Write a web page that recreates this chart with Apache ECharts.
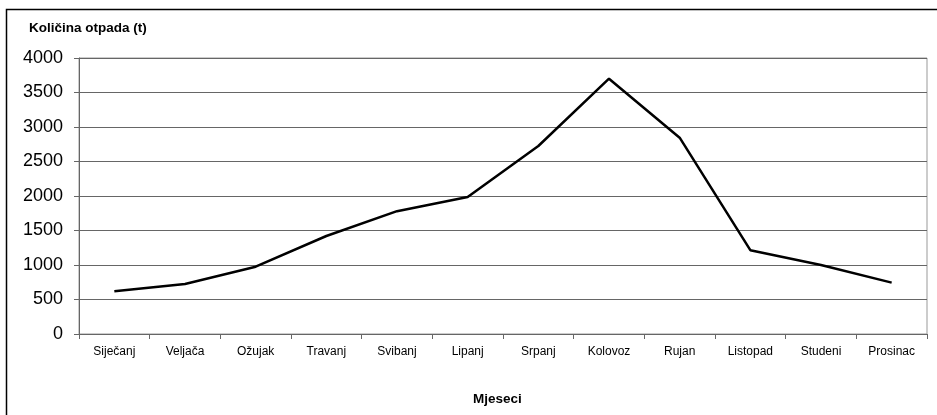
<!DOCTYPE html>
<html>
<head>
<meta charset="utf-8">
<script src="https://cdn.jsdelivr.net/npm/echarts@6/dist/echarts.min.js"></script>
<style>
  html, body { margin: 0; padding: 0; background: #fff; }
  #box { width: 937px; height: 415px; }
</style>
</head>
<body>
<div id="box"></div>
<script>
// podaci
var months = ["Siječanj", "Veljača", "Ožujak", "Travanj", "Svibanj", "Lipanj",
  "Srpanj", "Kolovoz", "Rujan", "Listopad", "Studeni", "Prosinac"];
var otpad = [620, 725, 975, 1420, 1780, 1985, 2725, 3700, 2845, 1215, 1000, 745];
var yTicks = [0, 4000, 500]; // min, max, interval

var myChart = echarts.init(document.getElementById("box"));

var font = "Liberation Sans, Arial, sans-serif";

var option = {
  animation: false,
  backgroundColor: "#fff",
  grid: {
    left: 79,
    right: 10,
    top: 58,
    bottom: 81,
    show: true,
    borderColor: "#999",
    borderWidth: 1,
    backgroundColor: "transparent",
  },
  graphic: [
    {
      type: "rect",
      shape: { x: 6.5, y: 9.5, width: 940, height: 420 },
      style: { fill: "none", stroke: "#000", lineWidth: 1.5 },
    },
    {
      type: "text",
      left: 29,
      top: 21,
      style: {
        text: "Količina otpada (t)",
        font: "bold 13.5px " + font,
        fill: "#000",
      },
    },
    {
      type: "text",
      left: 473,
      top: 392,
      style: {
        text: "Mjeseci",
        font: "bold 13.5px " + font,
        fill: "#000",
      },
    },
  ],
  xAxis: {
    type: "category",
    data: months,
    boundaryGap: true,
    axisLine: { lineStyle: { color: "#666", width: 1 } },
    axisTick: { show: true, length: 5, lineStyle: { color: "#666" } },
    axisLabel: { color: "#000", fontSize: 12, fontFamily: font, margin: 12 },
    splitLine: { show: false },
  },
  yAxis: {
    type: "value",
    min: yTicks[0],
    max: yTicks[1],
    interval: yTicks[2],
    axisLine: { show: true, lineStyle: { color: "#666", width: 1 } },
    axisTick: { show: true, length: 5, lineStyle: { color: "#666" } },
    axisLabel: {
      color: "#000",
      fontSize: 18,
      fontFamily: font,
      margin: 16,
      formatter: function (v) { return String(v); },
    },
    splitLine: { show: true, lineStyle: { color: "#666", width: 1 } },
  },
  series: [
    {
      type: "line",
      data: otpad,
      symbol: "none",
      lineStyle: { color: "#000", width: 2.5 },
    },
  ],
};

myChart.setOption(option);
</script>
</body>
</html>
